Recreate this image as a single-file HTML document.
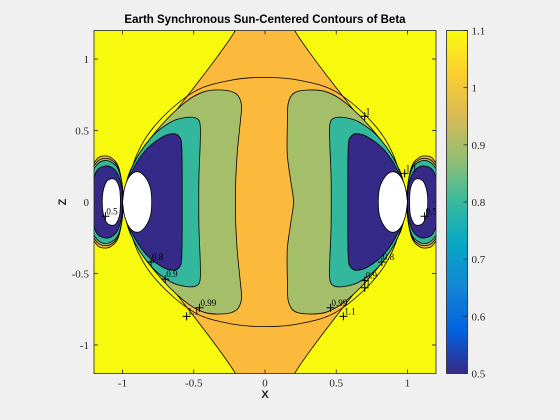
<!DOCTYPE html>
<html><head><meta charset="utf-8"><style>
body{margin:0;background:#f0f0f0;}
svg{display:block;}
text{font-family:"Liberation Serif",serif;font-size:11px;fill:#262626;}
</style></head><body>
<svg id="c" width="560" height="420">
<text x="265" y="23" text-anchor="middle" style="font-family:'Liberation Sans',sans-serif;font-weight:bold;font-size:11.5px;fill:#000">Earth Synchronous Sun-Centered Contours of Beta</text>
<text x="265" y="398" text-anchor="middle" style="font-family:'Liberation Sans',sans-serif;font-weight:bold;font-size:11px;fill:#262626">X</text>
<text transform="translate(66,202) rotate(-90)" text-anchor="middle" style="font-family:'Liberation Sans',sans-serif;font-weight:bold;font-size:11px;fill:#262626">Z</text>
</svg>
<script>
// ---- data (data units) ----
const xTicks=[-1,-0.5,0,0.5,1];
const yTicks=[-1,-0.5,0,0.5,1];
const cbTicks=[0.5,0.6,0.7,0.8,0.9,1,1.1];
const levels=[0.5,0.8,0.9,1.0,1.1];
const hyperbolaUpper=[[-0.17,1.3],[-0.214,1.19],[-0.335,1.016],[-0.476,0.83],[-0.64,0.62],[-0.80,0.41],[-0.944,0.224],[-1,0]];
const circleUpper=[[-1,0],[-0.9,0.33],[-0.75,0.56],[-0.5,0.77],[-0.25,0.85],[0,0.872]];
const greenLeftUpper=[[-1,0],[-0.92,0.27],[-0.757,0.503],[-0.57,0.69],[-0.43,0.771],[-0.289,0.783],[-0.2,0.755],[-0.165,0.68],[-0.172,0.573],[-0.195,0.34],[-0.207,0.107],[-0.207,0]];
const greenRightUpper=[[1,0],[0.92,0.27],[0.757,0.503],[0.57,0.69],[0.43,0.771],[0.289,0.783],[0.2,0.76],[0.163,0.69],[0.158,0.573],[0.156,0.34],[0.18,0.15],[0.2,0]];
const tealUpper=[[-1,0],[-0.93,0.25],[-0.8,0.45],[-0.66,0.56],[-0.55,0.592],[-0.48,0.585],[-0.455,0.54],[-0.455,0.4],[-0.463,0.2],[-0.465,0]];
const navyUpper=[[-1,0],[-0.94,0.2],[-0.84,0.36],[-0.72,0.455],[-0.64,0.478],[-0.6,0.455],[-0.585,0.4],[-0.581,0.2],[-0.581,0]];
const holeUpper=[[-1,0],[-0.985,0.1],[-0.95,0.18],[-0.897,0.212],[-0.845,0.18],[-0.805,0.1],[-0.795,0]];
const lobeOrangeUpper=[[-1,0],[-1.0,0.1],[-1.03,0.25],[-1.08,0.31],[-1.13,0.322],[-1.18,0.3],[-1.23,0.2],[-1.25,0]];
const lobeGreenUpper=[[-1,0],[-1.0,0.1],[-1.03,0.24],[-1.08,0.295],[-1.13,0.305],[-1.18,0.28],[-1.225,0.19],[-1.24,0]];
const lobeTealUpper=[[-1,0],[-1.0,0.1],[-1.03,0.23],[-1.08,0.28],[-1.13,0.29],[-1.18,0.26],[-1.22,0.18],[-1.23,0]];
const lobeNavyUpper=[[-1,0],[-1.005,0.1],[-1.035,0.2],[-1.08,0.245],[-1.13,0.25],[-1.18,0.22],[-1.21,0.12],[-1.215,0]];
const lobeHoleUpper=[[-1.014,0],[-1.02,0.09],[-1.045,0.15],[-1.075,0.163],[-1.11,0.145],[-1.135,0.08],[-1.142,0]];
const labels=[["0.5",-1.12,-0.1],["0.8",-0.8,-0.42],["0.9",-0.7,-0.54],["0.99",-0.46,-0.74],["1.1",-0.55,-0.8],["1",0.7,0.6],["1.1",0.98,0.2],["0.5",1.12,-0.1],["0.8",0.82,-0.42],["0.9",0.7,-0.55],["1",0.7,-0.6],["0.99",0.46,-0.74],["1.1",0.55,-0.8]];
const colors={yellow:"#f8fa0d",orange:"#fbba3c",green:"#a5be6a",teal:"#33b89e",navy:"#352a87",white:"#ffffff"};

// ---- axes ----
const L=94,R=436,T=30.5,B=373.5,xmin=-1.2,xmax=1.2,ymin=-1.2,ymax=1.2;
const sx=v=>L+(v-xmin)/(xmax-xmin)*(R-L);
const sy=v=>B-(v-ymin)/(ymax-ymin)*(B-T);
const NS="http://www.w3.org/2000/svg";
const svg=document.getElementById('c');
function el(tag,attrs,parent){const e=document.createElementNS(NS,tag);for(const k in attrs)e.setAttribute(k,attrs[k]);(parent||svg).appendChild(e);return e;}
const P=p=>sx(p[0]).toFixed(2)+","+sy(p[1]).toFixed(2);
function seg(pts){
  let d="";
  for(let i=0;i<pts.length-1;i++){
    const p0=pts[i-1]||pts[i],p1=pts[i],p2=pts[i+1],p3=pts[i+2]||pts[i+1];
    const c1=[p1[0]+(p2[0]-p0[0])/6,p1[1]+(p2[1]-p0[1])/6];
    const c2=[p2[0]-(p3[0]-p1[0])/6,p2[1]-(p3[1]-p1[1])/6];
    d+="C"+P(c1)+" "+P(c2)+" "+P(p2);
  }
  return d;
}
const flipY=pts=>pts.map(p=>[p[0],-p[1]]);
const flipX=pts=>pts.map(p=>[-p[0],p[1]]);
function mirrorShape(upper,s){
  const pts=upper.map(p=>[s*p[0],p[1]]);
  return pts.concat(flipY(pts.slice(0,-1).reverse()));
}

const defs=el('defs',{});
const cp=el('clipPath',{id:'plotclip'},defs);
el('rect',{x:L,y:T,width:R-L,height:B-T},cp);
const g=el('g',{'clip-path':'url(#plotclip)'});


const bg=el('rect',{x:L,y:T,width:R-L,height:B-T,fill:colors.yellow},g);



// hyperbola orange region
(function(){
  const lu=hyperbolaUpper;                       // top -> (-1,0)
  const ll=flipY(lu.slice().reverse());          // (-1,0) -> bottom
  const rl=flipX(lu).map(p=>[p[0],-p[1]]);       // bottom right -> (1,0)
  const ru=flipX(lu.slice().reverse());          // (1,0) -> top right
  const d="M"+P(lu[0])+seg(lu)+seg(ll)+"L"+P(rl[0])+seg(rl)+seg(ru)+"Z";
  const p=el('path',{d:d,fill:colors.orange,stroke:'#000','stroke-width':0.8},g);
  
  
})();
(function(){
  const up=circleUpper.concat(flipX(circleUpper.slice(0,-1).reverse())); // (-1,0)->(1,0) over top
  const lo=flipY(up.slice().reverse());                                   // (1,0)->(-1,0) under
  const c=el('path',{d:"M"+P(up[0])+seg(up)+seg(lo)+"Z",fill:'none',stroke:'#000','stroke-width':0.8},g);
  
  
})();

function fillShape(upper,s,color,name){
  const pts=mirrorShape(upper,s);
  const p=el('path',{d:"M"+P(pts[0])+seg(pts)+"Z",fill:color,stroke:'#000','stroke-width':0.8},g);
  
  
}
[-1,1].forEach(s=>{
  const side=s<0?'left':'right';
  fillShape(s<0?greenLeftUpper:greenRightUpper,1,colors.green,'contour-0.9-'+side);
  fillShape(tealUpper,-s,colors.teal,'contour-0.8-'+side);
  fillShape(navyUpper,-s,colors.navy,'contour-0.5-'+side);
  fillShape(holeUpper,-s,colors.white,'undefined-hole-'+side);
  fillShape(lobeOrangeUpper,-s,colors.orange,'lobe-1.0-'+side);
  fillShape(lobeGreenUpper,-s,colors.green,'lobe-0.9-'+side);
  fillShape(lobeTealUpper,-s,colors.teal,'lobe-0.8-'+side);
  fillShape(lobeNavyUpper,-s,colors.navy,'lobe-0.5-'+side);
  fillShape(lobeHoleUpper,-s,colors.white,'lobe-hole-'+side);
});
labels.forEach(l=>{
  const x=sx(l[1]),y=sy(l[2]);
  const m=el('path',{d:`M${x-4},${y}H${x+4}M${x},${y-4}V${y+4}`,stroke:'#000','stroke-width':1},g);
  
  
  const t=el('text',{x:x+1,y:y-2,style:'font-size:9px;fill:#000'},g);
  t.textContent=l[0];
  
  
});

// axes box & ticks
const box=el('rect',{x:L,y:T,width:R-L,height:B-T,fill:'none',stroke:'#262626','stroke-width':0.8});


xTicks.forEach(v=>{
  const x=sx(v);
  const t=el('path',{d:`M${x},${B}v-4M${x},${T}v4`,stroke:'#262626','stroke-width':0.8});
  
  
  const lb=el('text',{x:x,y:B+13,'text-anchor':'middle'});
  lb.textContent=String(v);
  
  
});
yTicks.forEach(v=>{
  const y=sy(v);
  const t=el('path',{d:`M${L},${y}h4M${R},${y}h-4`,stroke:'#262626','stroke-width':0.8});
  
  
  const lb=el('text',{x:L-5,y:y+4,'text-anchor':'end'});
  lb.textContent=String(v);
  
  
});

// colorbar
const CL=446.5,CR=467.5,cmin=0.5,cmax=1.1;
const cy=v=>B-(v-cmin)/(cmax-cmin)*(B-T);
const lg=el('linearGradient',{id:'parula',x1:0,y1:1,x2:0,y2:0},defs);
[["0","#352A87"],["0.125","#0363E1"],["0.25","#1485D4"],["0.375","#06A7C6"],["0.5","#38B99E"],["0.625","#92BF73"],["0.75","#D9BA56"],["0.875","#FCCE2E"],["1","#F9FB0E"]].forEach(s=>el('stop',{offset:s[0],'stop-color':s[1]},lg));
const cb=el('rect',{x:CL,y:T,width:CR-CL,height:B-T,fill:'url(#parula)',stroke:'#262626','stroke-width':0.8});


cbTicks.forEach(v=>{
  const y=cy(v);
  const t=el('path',{d:`M${CR},${y}h-4`,stroke:'#262626','stroke-width':0.8});
  
  
  const lb=el('text',{x:CR+4,y:y+4});
  lb.textContent=String(v);
  
  
});
</script>
</body></html>
